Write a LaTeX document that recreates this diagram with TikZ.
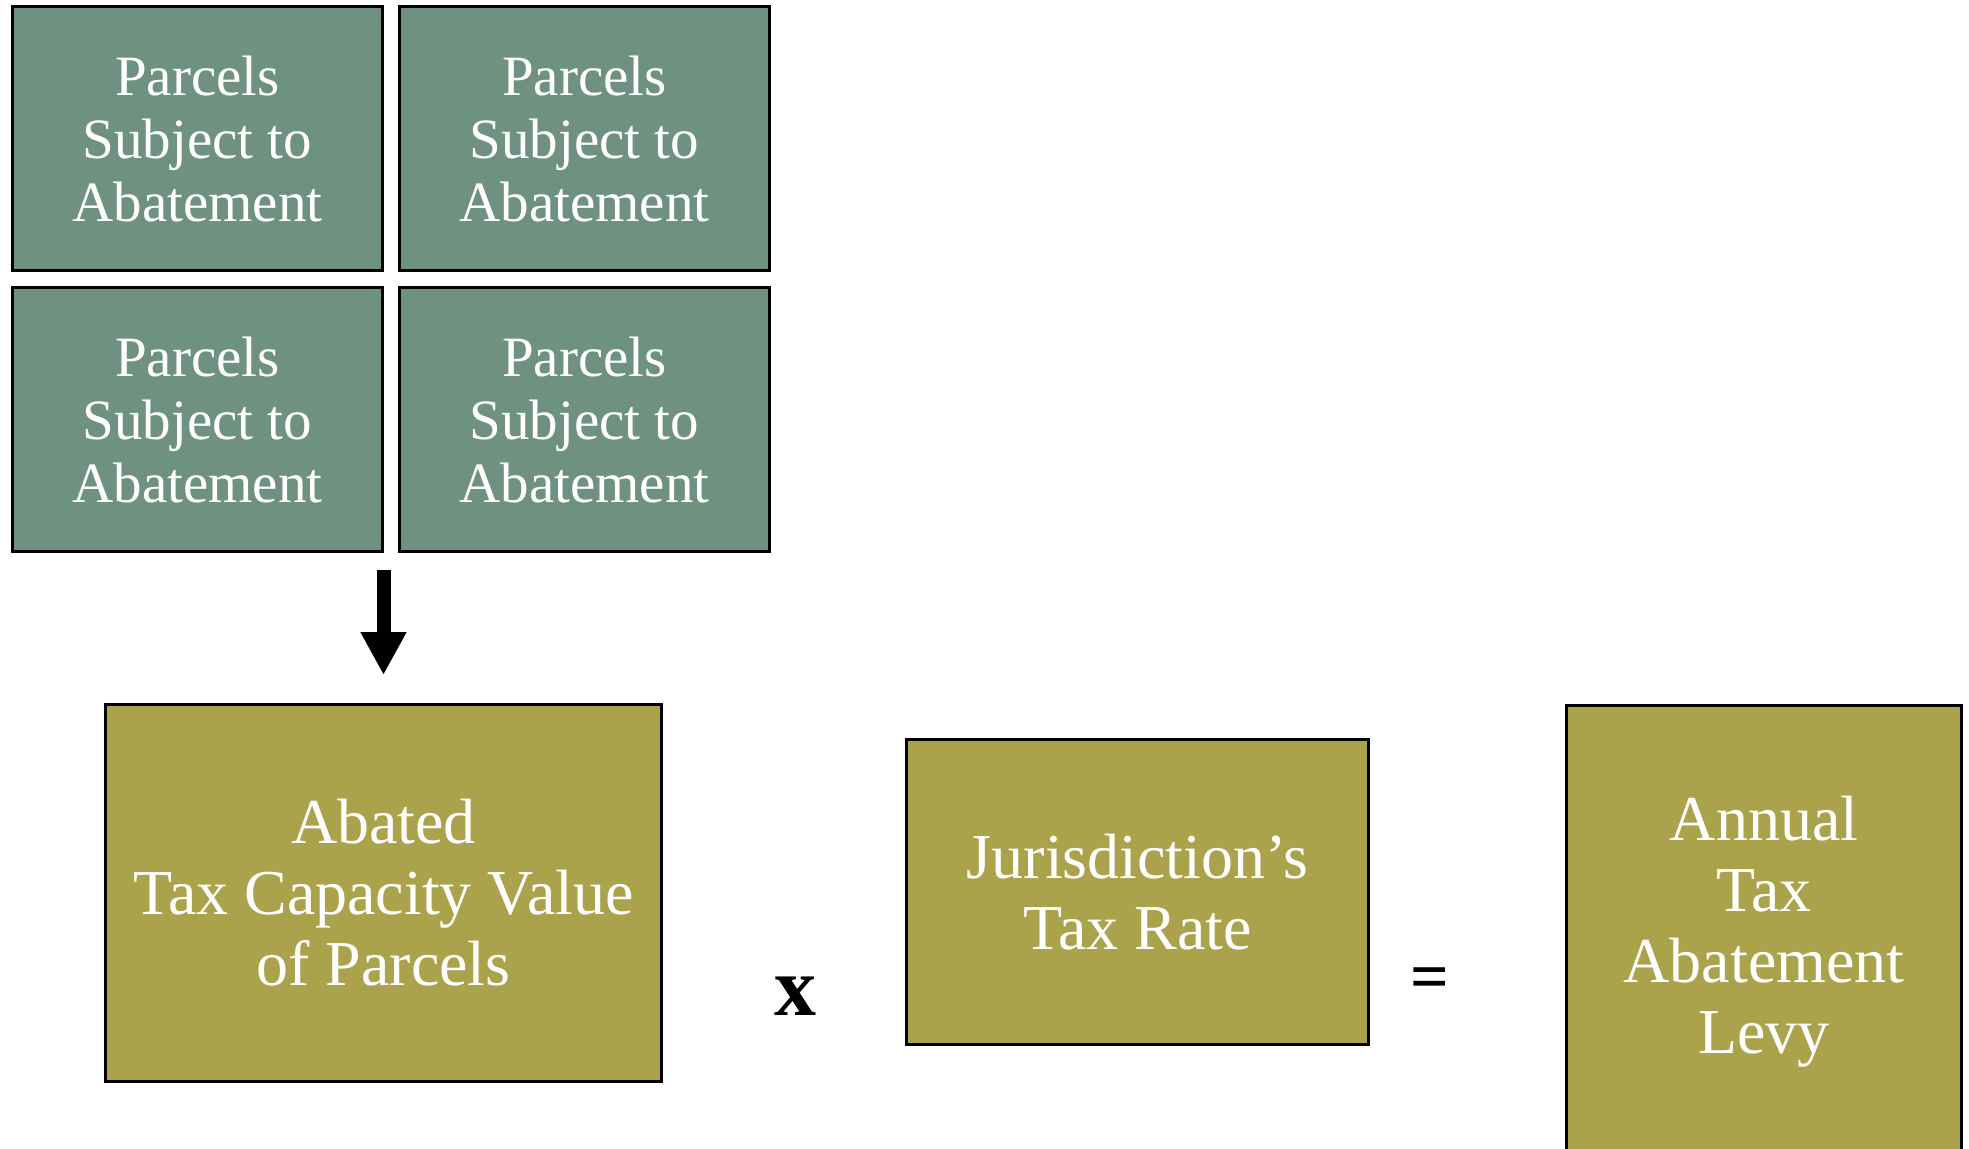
\documentclass[tikz,border=0pt]{standalone}
\usepackage{fontspec}
\setmainfont{Liberation Serif}
\usetikzlibrary{arrows.meta,calc}
\definecolor{parcelgreen}{RGB}{110,145,130}
\definecolor{olivebox}{RGB}{171,162,76}
\tikzset{
  parcelbox/.style={draw=black, line width=1.5pt, fill=parcelgreen, text=white,
    inner sep=0pt, anchor=north west, minimum width=185pt, minimum height=132pt,
    align=center, font=\fontsize{28.5}{31.5}\selectfont},
  olive/.style={draw=black, line width=1.5pt, fill=olivebox, text=white,
    inner sep=0pt, anchor=north west, align=center,
    font=\fontsize{32}{35.5}\selectfont},
  opsign/.style={inner sep=0pt, font=\bfseries\fontsize{34}{40}\selectfont},
  bigarrow/.style={line width=7pt, line cap=butt, -{Triangle[width=21.5pt,length=21.5pt]}}
}
\begin{document}
\begin{tikzpicture}[x=0.5pt,y=-0.5pt]
\useasboundingbox (0,0) rectangle (1969,1148);
\node[parcelbox] (p1) at (11,5) {Parcels\\Subject to\\Abatement};
\node[parcelbox] (p2) at (398,5) {Parcels\\Subject to\\Abatement};
\node[parcelbox] (p3) at (11,286) {Parcels\\Subject to\\Abatement};
\node[parcelbox] (p4) at (398,286) {Parcels\\Subject to\\Abatement};
\node[olive, minimum width=278pt, minimum height=188.5pt] (abated) at (104,703)
  {Abated\\Tax Capacity Value\\of Parcels};
\node[olive, minimum width=231pt, minimum height=152.5pt] (rate) at (905,738)
  {Jurisdiction’s\\Tax Rate};
\node[olive, minimum width=197.5pt, minimum height=226pt] (levy) at (1565,704)
  {Annual\\Tax\\Abatement\\Levy};
\node[opsign, font=\bfseries\fontsize{42}{48}\selectfont] (times) at (795,996) {x};
\node[opsign] (equals) at (1430,984) {=};
\coordinate (astart) at ($(abated.north)+(0,-133)$);
\coordinate (aend) at ($(abated.north)+(0,-28)$);
\draw[bigarrow] (astart) -- (aend);
\end{tikzpicture}
\end{document}
